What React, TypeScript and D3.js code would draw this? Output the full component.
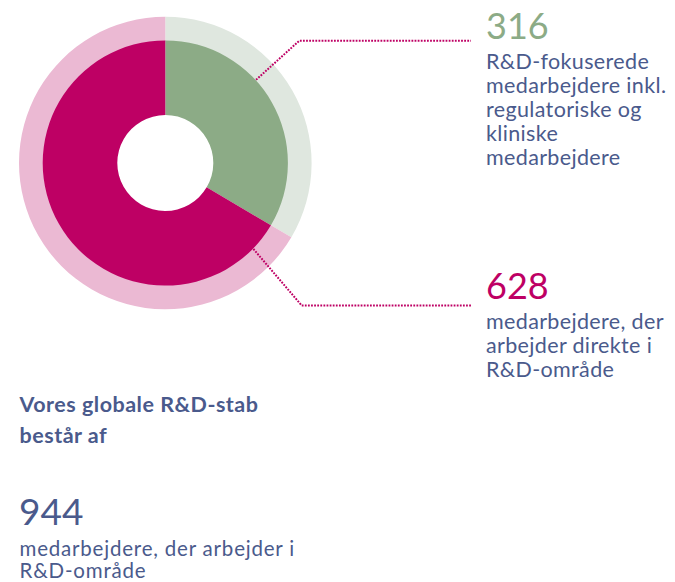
import React from "react";
import * as d3 from "d3";

const categories = ["R&D-fokuserede", "Direkte R&D"];
const values = [316, 628];
const total = 944;
const innerColors = ["#8cab86", "#be0064"];
const outerColors = ["#dfe7df", "#ebb9d3"];
const numberColors = ["#8cab86", "#be0064"];
const labelLines = [
  ["R&D-fokuserede", "medarbejdere inkl.", "regulatoriske og", "kliniske", "medarbejdere"],
  ["medarbejdere, der", "arbejder direkte i", "R&D-område"],
];
const titleLines = ["Vores globale R&D-stab", "består af"];
const totalLabel = ["medarbejdere, der arbejder i", "R&D-område"];

const W = 675;
const H = 582;
const cx = 165.3;
const cy = 163;
const rOuter = 146.3;
const rMid = 122.6;
const rHole = 48;
const textColor = "#4a5a8c";
const font = "Lato, 'Noto Sans', sans-serif";

export default function App() {
  const pie = d3.pie<number>().sort(null).value((d) => d)(values);
  const outerArc = d3.arc<d3.PieArcDatum<number>>().innerRadius(rMid - 1).outerRadius(rOuter);
  const innerArc = d3.arc<d3.PieArcDatum<number>>().innerRadius(rHole).outerRadius(rMid);

  const leaderAngles = [47.5, 134.3];
  const elbowY = [40.7, 305.5];
  const elbowX = [299.3, 301.7];
  const lineEndX = 471;
  const numberY = [38.5, 299.3];
  const labelX = 486;

  return (
    <svg
      width={W}
      height={H}
      style={{ position: "absolute", left: 0, top: 0 }}
      fontFamily={font}
    >
      <g transform={`translate(${cx},${cy})`}>
        {pie.map((p, i) => (
          <path key={"o" + i} d={outerArc(p) as string} fill={outerColors[i]} />
        ))}
        {pie.map((p, i) => (
          <path key={"i" + i} d={innerArc(p) as string} fill={innerColors[i]} />
        ))}
      </g>
      {leaderAngles.map((a, i) => {
        const rad = (a * Math.PI) / 180;
        const sx = cx + Math.sin(rad) * (rMid + 0.5);
        const sy = cy - Math.cos(rad) * (rMid + 0.5);
        return (
          <polyline
            key={"l" + i}
            points={`${sx},${sy} ${elbowX[i]},${elbowY[i]} ${lineEndX},${elbowY[i]}`}
            fill="none"
            stroke="#be0064"
            strokeWidth={2}
            strokeDasharray="1.8 1.3"
          />
        );
      })}
      {values.map((v, i) => (
        <g key={"t" + i}>
          <text x={labelX} y={numberY[i]} fontSize={36} fill={numberColors[i]}>
            {v}
          </text>
          {labelLines[i].map((ln, j) => (
            <text
              key={j}
              x={labelX}
              y={numberY[i] + 30 + j * 24}
              fontSize={21.5}
              letterSpacing={0.35}
              fill={textColor}
            >
              {ln}
            </text>
          ))}
        </g>
      ))}
      {titleLines.map((ln, j) => (
        <text
          key={"h" + j}
          x={19.5}
          y={411.7 + j * 31.6}
          fontSize={21.5}
          letterSpacing={0.5}
          fontWeight="bold"
          fill={textColor}
        >
          {ln}
        </text>
      ))}
      <text x={19} y={525} fontSize={37} fill={textColor}>
        {total}
      </text>
      {totalLabel.map((ln, j) => (
        <text
          key={"b" + j}
          x={19.5}
          y={555.5 + j * 22.5}
          fontSize={20.5}
          letterSpacing={0.8}
          fill={textColor}
        >
          {ln}
        </text>
      ))}
    </svg>
  );
}
